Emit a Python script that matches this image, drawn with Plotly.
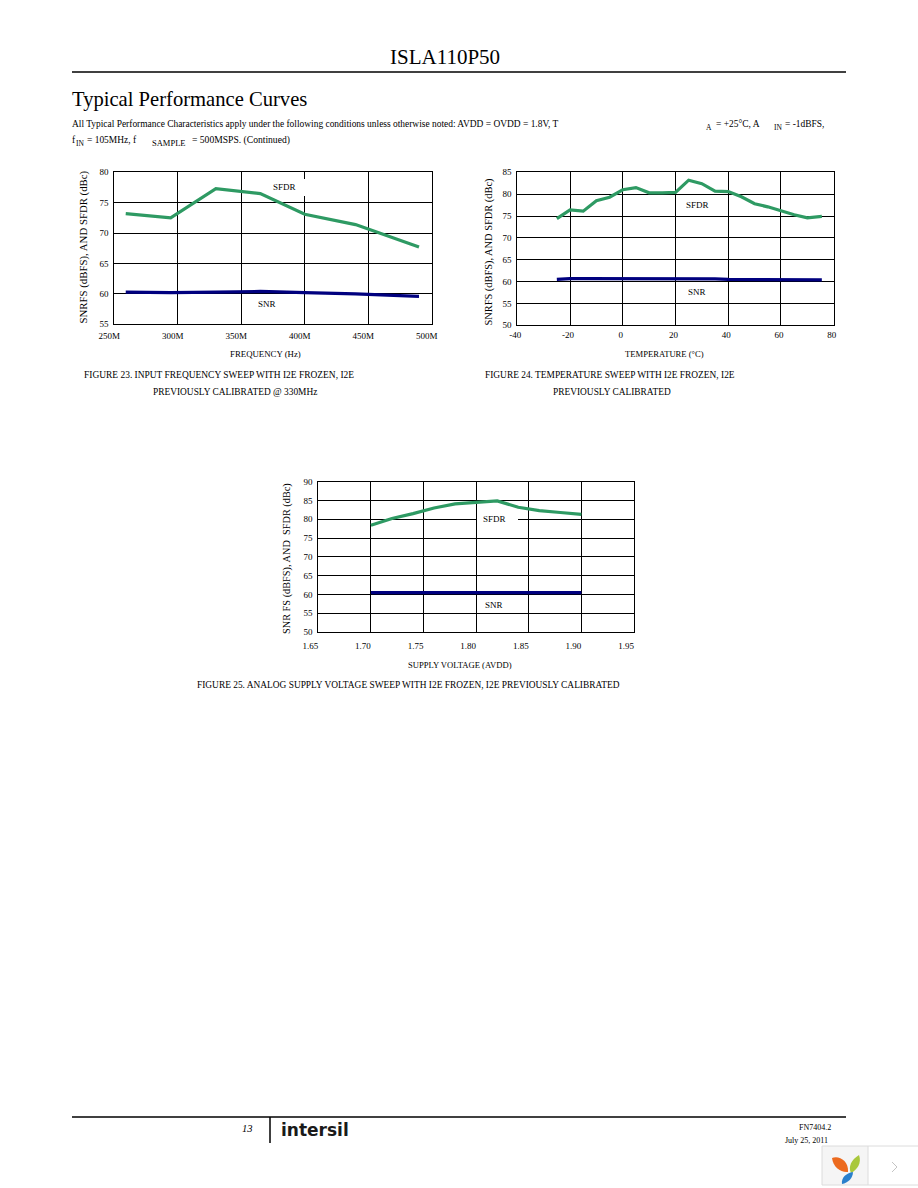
import plotly.graph_objects as go

W, H = 918, 1188

# ---------- data ----------
freq_mhz = [259, 294.4, 330, 365, 400, 440, 490]
freq_sfdr = [73.2, 72.5, 77.3, 76.5, 73.1, 71.4, 67.7]
freq_snr = [60.3, 60.2, 60.3, 60.4, 60.2, 60.0, 59.6]
freq_ticks = [250, 300, 350, 400, 450, 500]
freq_ticklabels = ["250M", "300M", "350M", "400M", "450M", "500M"]

temp_c = [-25, -20, -15, -10, -5, 0, 5, 10, 15, 20, 25, 30, 35, 40, 45, 50, 55, 60, 65, 70, 75.5]
temp_sfdr = [74.4, 76.4, 76.1, 78.5, 79.3, 81.0, 81.5, 80.3, 80.3, 80.4, 83.2, 82.4, 80.7, 80.6,
             79.4, 77.8, 77.1, 76.2, 75.3, 74.6, 74.9]
temp_snr = [60.5, 60.7, 60.7, 60.7, 60.7, 60.7, 60.7, 60.7, 60.7, 60.6, 60.7, 60.7, 60.6, 60.5,
            60.5, 60.5, 60.5, 60.5, 60.4, 60.4, 60.4]
temp_ticks = [-40, -20, 0, 20, 40, 60, 80]

avdd_v = [1.70, 1.72, 1.74, 1.76, 1.78, 1.80, 1.82, 1.84, 1.86, 1.88, 1.90]
avdd_sfdr = [78.4, 80.2, 81.5, 83.0, 84.1, 84.6, 84.9, 83.2, 82.3, 81.8, 81.3]
avdd_snr = [60.5, 60.5, 60.5, 60.5, 60.5, 60.5, 60.5, 60.5, 60.5, 60.5, 60.5]
avdd_ticks = [1.65, 1.70, 1.75, 1.80, 1.85, 1.90, 1.95]
avdd_ticklabels = ["1.65", "1.70", "1.75", "1.80", "1.85", "1.90", "1.95"]

ticks_1 = [55, 60, 65, 70, 75, 80]
ticks_2 = [50, 55, 60, 65, 70, 75, 80, 85]
ticks_3 = [50, 55, 60, 65, 70, 75, 80, 85, 90]

GREEN = "#2E9A63"
NAVY = "#00007F"
SERIF = "Liberation Serif"


def px(x):
    return x / W


def py(y):
    return 1 - y / H


fig = go.Figure()

panels = [
    dict(n="", box=(114.3, 431.7, 172.3, 324.3), x=freq_mhz, sfdr=freq_sfdr, snr=freq_snr,
         xr=[250, 500], yr=[55, 80], xt=freq_ticks, xl=freq_ticklabels, yt=ticks_1,
         xtitle="FREQUENCY (Hz)", ytitle="SNRFS (dBFS), AND SFDR (dBc)",
         sf=(284, 187), sn=(267, 304), tx=83, ty=354, patch=(268, 306, 179, 196),
         shift=-5, standoff=3, tcx=265, tsize=8.8, ysize=10.8, tcy=247.5),
    dict(n="2", box=(517.3, 833.7, 172.3, 325.3), x=temp_c, sfdr=temp_sfdr, snr=temp_snr,
         xr=[-40, 80], yr=[50, 85], xt=temp_ticks, xl=[str(t) for t in temp_ticks], yt=ticks_2,
         xtitle="TEMPERATURE (°C)", ytitle="SNRFS (dBFS), AND SFDR (dBc)",
         sf=(697, 205), sn=(697, 292), tx=488, ty=354, patch=None,
         shift=-2, standoff=1, tcx=664, tsize=8.6, ysize=10.4, tcy=252.5),
    dict(n="3", box=(318.3, 634, 481.7, 632), x=avdd_v, sfdr=avdd_sfdr, snr=avdd_snr,
         xr=[1.65, 1.95], yr=[50, 90], xt=avdd_ticks, xl=avdd_ticklabels, yt=ticks_3,
         xtitle="SUPPLY VOLTAGE (AVDD)", ytitle="SNR FS (dBFS), AND  SFDR (dBc)",
         sf=(494, 519), sn=(494, 605), tx=287, ty=665, patch=(477, 518, 510, 528),
         shift=-8, standoff=5, tcx=460, tsize=8.6, ysize=10.3, tcy=559),
]

layout_axes = {}
annos = []
shapes = []


def text(x, y, s, size=9, anchor="left", **kw):
    # placed on the hidden page axis (x4/y4), whose units are page pixels
    annos.append(dict(xref="x4", yref="y4", x=x, y=y, text=s, showarrow=False,
                      xanchor=anchor, yanchor="middle", borderpad=0,
                      font=dict(family=kw.pop("family", SERIF), size=size, color=kw.pop("color", "#000")),
                      **kw))


for p in panels:
    x0, x1, y0, y1 = p["box"]
    xa, ya = "x" + p["n"], "y" + p["n"]
    layout_axes["xaxis" + p["n"]] = dict(
        domain=[px(x0), px(x1)], range=p["xr"], anchor=ya, tickvals=p["xt"], ticktext=p["xl"],
        showgrid=True, gridcolor="#000", gridwidth=1.2, showline=True, linecolor="#000", linewidth=1.2,
        mirror=True, ticks="", zeroline=False, ticklabelshift=p["shift"], ticklabelstandoff=p["standoff"],
        tickfont=dict(family=SERIF, size=9, color="#000"),
    )
    layout_axes["yaxis" + p["n"]] = dict(
        domain=[py(y1), py(y0)], range=p["yr"], anchor=xa, tickvals=p["yt"],
        showgrid=True, gridcolor="#000", gridwidth=1.2, showline=True, linecolor="#000", linewidth=1.2,
        mirror=True, ticks="", zeroline=False, ticklabelstandoff=3,
        tickfont=dict(family=SERIF, size=9, color="#000"),
    )
    fig.add_trace(go.Scatter(x=p["x"], y=p["sfdr"], xaxis=xa, yaxis=ya, mode="lines", name="SFDR",
                             line=dict(color=GREEN, width=3.2)))
    fig.add_trace(go.Scatter(x=p["x"], y=p["snr"], xaxis=xa, yaxis=ya, mode="lines", name="SNR",
                             line=dict(color=NAVY, width=3.2)))
    if p["patch"]:
        a, b, c, d = p["patch"]
        sx = (p["xr"][1] - p["xr"][0]) / (x1 - x0)
        sy = (p["yr"][1] - p["yr"][0]) / (y1 - y0)
        shapes.append(dict(type="rect", xref=xa, yref=ya, layer="between",
                           x0=p["xr"][0] + (a - x0) * sx, x1=p["xr"][0] + (b - x0) * sx,
                           y0=p["yr"][1] - (c - y0) * sy, y1=p["yr"][1] - (d - y0) * sy,
                           fillcolor="#fff", line=dict(width=0)))
    text(p["sf"][0], p["sf"][1], "SFDR", 9, "center")
    text(p["sn"][0], p["sn"][1], "SNR", 9, "center")
    text(p["tcx"], p["ty"], p["xtitle"], p["tsize"], "center")
    text(p["tx"], p["tcy"], p["ytitle"], p["ysize"], "center", textangle=-90)

# hidden page axis: one unit is one pixel of the page
fig.add_trace(go.Scatter(x=[], y=[], xaxis="x4", yaxis="y4", hoverinfo="skip"))
layout_axes["xaxis4"] = dict(domain=[0, 1], range=[0, W], anchor="y4", visible=False, fixedrange=True)
layout_axes["yaxis4"] = dict(domain=[0, 1], range=[H, 0], anchor="x4", visible=False, fixedrange=True)

# page text
text(445, 57, "ISLA110P50", 21, "center")
text(71, 99, "Typical Performance Curves", 20.6)
text(71, 124, "All Typical Performance Characteristics apply under the following conditions unless otherwise noted: AVDD = OVDD = 1.8V, T", 9.43)
text(705, 127, "A", 7.5)
text(715, 124, "= +25°C, A", 9.43)
text(773, 127, "IN", 7.5)
text(784, 124, "= -1dBFS,", 9.43)
text(71, 140, "f", 9.43)
text(75, 143, "IN", 7.5)
text(86, 140, "= 105MHz, f", 9.43)
text(151, 143, "SAMPLE", 8.5)
text(191, 140, "= 500MSPS. (Continued)", 9.6)
text(83, 375, "FIGURE 23. INPUT FREQUENCY SWEEP WITH I2E FROZEN, I2E", 9.45)
text(152, 392, "PREVIOUSLY CALIBRATED @ 330MHz", 9.4)
text(484, 375, "FIGURE 24. TEMPERATURE SWEEP WITH I2E FROZEN, I2E", 9.4)
text(552, 392, "PREVIOUSLY CALIBRATED", 9.4)
text(196, 685, "FIGURE 25. ANALOG SUPPLY VOLTAGE SWEEP WITH I2E FROZEN, I2E PREVIOUSLY CALIBRATED", 9.4)
text(247, 1128, "<i>13</i>", 10.5, "center")
text(280, 1130, "<b>intersil</b>", 17, family="DejaVu Sans", color="#1a1a1a")
text(832, 1127, "FN7404.2", 8, "right")
text(829, 1140, "July 25, 2011", 8, "right")


def line(x0, y0, x1, y1, color="#000", width=1.5):
    return dict(type="line", xref="paper", yref="paper", x0=px(x0), y0=py(y0), x1=px(x1), y1=py(y1),
                line=dict(color=color, width=width))


def leaf(a, c1, c2, b, c3, c4, fill):
    def pt(q):
        return f"{px(q[0]):.5f},{py(q[1]):.5f}"
    d = f"M{pt(a)} C{pt(c1)} {pt(c2)} {pt(b)} C{pt(c3)} {pt(c4)} {pt(a)} Z"
    return dict(type="path", xref="paper", yref="paper", path=d, fillcolor=fill, line=dict(width=0))


shapes += [
    line(72, 72, 846, 72),
    line(72, 1117, 846, 1117),
    line(270, 1117, 270, 1143),
    dict(type="rect", xref="paper", yref="paper", x0=px(822), x1=px(868), y0=py(1185), y1=py(1146),
         fillcolor="#f5f5f5", line=dict(width=0)),
    line(822, 1146, 918, 1146, "#dcdcdc", 1),
    line(822, 1185, 918, 1185, "#dcdcdc", 1),
    line(822, 1146, 822, 1185, "#dcdcdc", 1),
    line(868, 1146, 868, 1185, "#dcdcdc", 1),
    leaf((832, 1158), (838, 1155), (849, 1160), (848, 1172), (841, 1173), (833, 1167), "#EC6A1E"),
    leaf((859, 1155), (862, 1163), (857, 1170), (851, 1173), (848, 1167), (851, 1160), "#A9C83C"),
    leaf((853, 1172), (853, 1178), (848, 1183), (842, 1184), (841, 1178), (846, 1173), "#2A80CC"),
    line(892, 1162, 897, 1167, "#c4c4c4", 1),
    line(897, 1167, 892, 1172, "#c4c4c4", 1),
]

fig.update_layout(width=W, height=H, margin=dict(l=0, r=0, t=0, b=0, pad=0, autoexpand=False), autosize=False,
                  paper_bgcolor="#fff", plot_bgcolor="rgba(0,0,0,0)", showlegend=False,
                  font=dict(family=SERIF, color="#000"), annotations=annos, shapes=shapes,
                  **layout_axes)

fig.write_html("out.html", config=dict(displayModeBar=False),
               post_script="document.body.style.margin='0';document.body.style.overflow='hidden';")
